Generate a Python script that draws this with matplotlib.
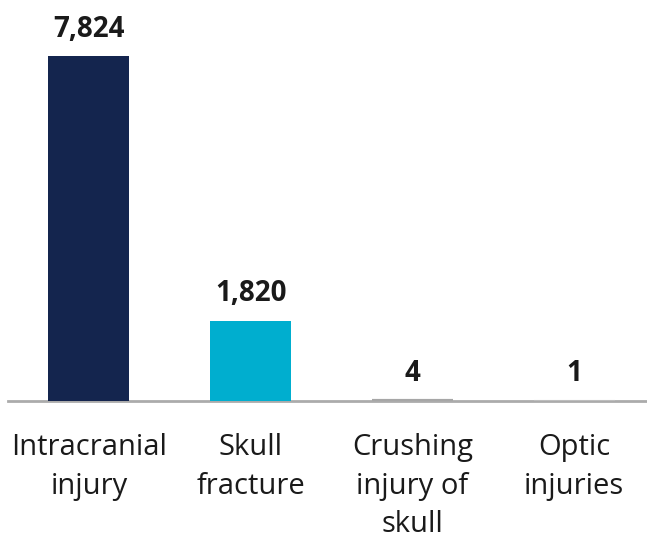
import matplotlib
matplotlib.use("Agg")
import matplotlib.pyplot as plt

categories = ["Intracranial\ninjury", "Skull\nfracture", "Crushing\ninjury of\nskull", "Optic\ninjuries"]
values = [7824, 1820, 4, 1]
labels = ["7,824", "1,820", "4", "1"]
colors = ["#14254E", "#00AECF", "#A6A6A6", "#BDBDBD"]

plt.rcParams["font.family"] = ["Open Sans", "DejaVu Sans"]

fig = plt.figure(figsize=(6.47, 5.37), dpi=100)
ax = fig.add_axes([8 / 647, 1 - 401 / 537, 1 - 8 / 647, 401 / 537])

x = range(len(values))
bars = ax.bar(x, values, width=0.5, color=colors, edgecolor=colors,
              linewidth=[0, 0, 3, 1.5], zorder=3)

for xi, v, lab in zip(x, values, labels):
    ax.annotate(lab, (xi, v), xytext=(0, 9), textcoords="offset points",
                ha="center", va="bottom", fontsize=20, fontweight="bold", color="#1a1a1a")

ax.set_xlim(-0.5, 3.45)
ax.set_ylim(0, 7824 * 401 / 345)
ax.set_xticks(list(x))
ax.set_xticklabels(categories, fontsize=21, color="#1a1a1a", linespacing=1.44)
ax.tick_params(axis="x", length=0, pad=23)
ax.set_yticks([])
for s in ["top", "right", "left"]:
    ax.spines[s].set_visible(False)
ax.spines["bottom"].set_color("#ABABAB")
ax.spines["bottom"].set_linewidth(2)
ax.spines["bottom"].set_zorder(1)

fig.savefig("out.png", dpi=100, facecolor="white")
